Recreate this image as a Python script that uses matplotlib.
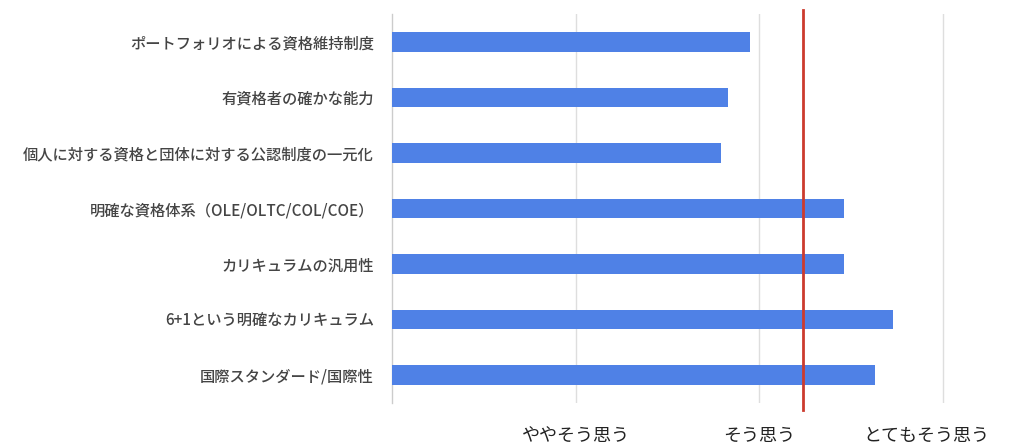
import matplotlib
matplotlib.use('Agg')
import matplotlib.pyplot as plt
import matplotlib.transforms as mtransforms
import numpy as np

plt.rcParams['font.family'] = ['Noto Sans CJK JP', 'DejaVu Sans']

categories = [
    'ポートフォリオによる資格維持制度',
    '有資格者の確かな能力',
    '個人に対する資格と団体に対する公認制度の一元化',
    '明確な資格体系（OLE/OLTC/COL/COE）',
    'カリキュラムの汎用性',
    '6+1という明確なカリキュラム',
    '国際スタンダード/国際性',
]
scores = [2.95, 2.83, 2.79, 3.46, 3.46, 3.73, 3.63]
average = 3.24
tick_values = [2, 3, 4]
tick_labels = ['ややそう思う', 'そう思う', 'とてもそう思う']
base = 1

fig = plt.figure(figsize=(10.24, 4.48), dpi=100)
ax = fig.add_axes([392 / 1024, 1 - 403 / 448, (945 - 392) / 1024, 389 / 448])

y = np.arange(len(categories))
ax.barh(y, np.array(scores) - base, left=base, height=0.35, color='#4f81e6', zorder=3)

ax.set_xlim(base, 4 + 2 / 183.7)
ax.set_ylim(len(categories) - 0.5, -0.5)
ax.set_yticks(y)
ax.set_yticklabels(categories, fontsize=11, color='#444444', fontweight='medium')
ax.set_xticks(tick_values)
ax.set_xticklabels(tick_labels, fontsize=13, color='#222222')
ax.tick_params(axis='both', length=0)
ax.tick_params(axis='y', pad=13)
ax.tick_params(axis='x', pad=17)

ax.grid(axis='x', color='#dedede', linewidth=1, zorder=0)
for side in ['top', 'right', 'bottom']:
    ax.spines[side].set_visible(False)
ax.spines['left'].set_color('#cccccc')
ax.spines['left'].set_linewidth(1)

ax.axvline(average, ymin=-0.018, ymax=1.01, color='#cc3b2e', linewidth=2,
           clip_on=False, zorder=4)

# last label is pulled inside the chart area
last = ax.get_xticklabels()[-1]
last.set_transform(last.get_transform() +
                   mtransforms.ScaledTranslation(-17 / 100, 0, fig.dpi_scale_trans))

fig.savefig('out.png', dpi=100)
